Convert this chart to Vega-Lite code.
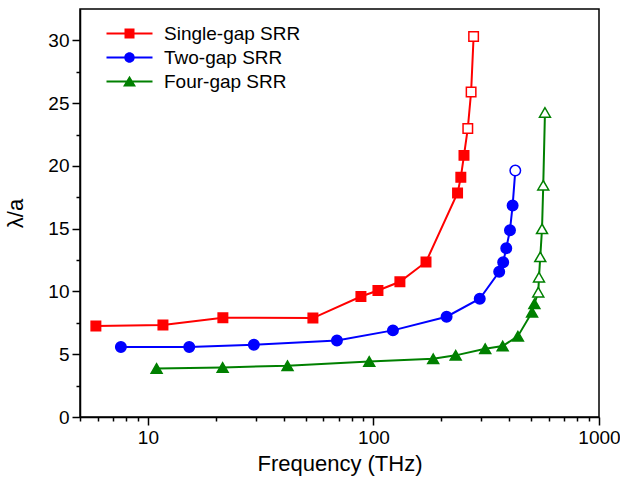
{
  "$schema": "https://vega.github.io/schema/vega-lite/v6.json",
  "width": 519,
  "height": 408,
  "autosize": "none",
  "padding": {"left": 80, "top": 9, "right": 21, "bottom": 71},
  "background": "white",
  "config": {
    "view": {"stroke": "black", "strokeWidth": 1.5},
    "font": "Liberation Sans",
    "axis": {
      "domainColor": "black", "domainWidth": 1.5, "tickColor": "black", "tickWidth": 1.5,
      "labelColor": "black", "labelFont": "Liberation Sans", "labelFontSize": 19,
      "titleColor": "black", "titleFont": "Liberation Sans", "titleFontSize": 22, "titleFontWeight": "normal",
      "grid": false
    },
    "legend": {"labelFont": "Liberation Sans"}
  },
  "data": {
    "values": [
      {"series": "Single-gap SRR", "freq": 5.88, "lam": 7.24, "open": 0},
      {"series": "Single-gap SRR", "freq": 11.66, "lam": 7.32, "open": 0},
      {"series": "Single-gap SRR", "freq": 21.5, "lam": 7.91, "open": 0},
      {"series": "Single-gap SRR", "freq": 53.9, "lam": 7.88, "open": 0},
      {"series": "Single-gap SRR", "freq": 88.0, "lam": 9.6, "open": 0},
      {"series": "Single-gap SRR", "freq": 104.7, "lam": 10.08, "open": 0},
      {"series": "Single-gap SRR", "freq": 131, "lam": 10.77, "open": 0},
      {"series": "Single-gap SRR", "freq": 171, "lam": 12.35, "open": 0},
      {"series": "Single-gap SRR", "freq": 236, "lam": 17.85, "open": 0},
      {"series": "Single-gap SRR", "freq": 244, "lam": 19.09, "open": 0},
      {"series": "Single-gap SRR", "freq": 252, "lam": 20.84, "open": 0},
      {"series": "Single-gap SRR", "freq": 262, "lam": 22.99, "open": 1},
      {"series": "Single-gap SRR", "freq": 271, "lam": 25.89, "open": 1},
      {"series": "Single-gap SRR", "freq": 278, "lam": 30.31, "open": 1},
      {"series": "Two-gap SRR", "freq": 7.59, "lam": 5.57, "open": 0},
      {"series": "Two-gap SRR", "freq": 15.25, "lam": 5.57, "open": 0},
      {"series": "Two-gap SRR", "freq": 29.5, "lam": 5.76, "open": 0},
      {"series": "Two-gap SRR", "freq": 68.9, "lam": 6.1, "open": 0},
      {"series": "Two-gap SRR", "freq": 122, "lam": 6.9, "open": 0},
      {"series": "Two-gap SRR", "freq": 211, "lam": 7.99, "open": 0},
      {"series": "Two-gap SRR", "freq": 296, "lam": 9.42, "open": 0},
      {"series": "Two-gap SRR", "freq": 361, "lam": 11.57, "open": 0},
      {"series": "Two-gap SRR", "freq": 376, "lam": 12.33, "open": 0},
      {"series": "Two-gap SRR", "freq": 388, "lam": 13.45, "open": 0},
      {"series": "Two-gap SRR", "freq": 403, "lam": 14.88, "open": 0},
      {"series": "Two-gap SRR", "freq": 414, "lam": 16.84, "open": 0},
      {"series": "Two-gap SRR", "freq": 425.5, "lam": 19.63, "open": 1},
      {"series": "Four-gap SRR", "freq": 10.93, "lam": 3.87, "open": 0},
      {"series": "Four-gap SRR", "freq": 21.45, "lam": 3.95, "open": 0},
      {"series": "Four-gap SRR", "freq": 41.6, "lam": 4.09, "open": 0},
      {"series": "Four-gap SRR", "freq": 95.8, "lam": 4.43, "open": 0},
      {"series": "Four-gap SRR", "freq": 184, "lam": 4.64, "open": 0},
      {"series": "Four-gap SRR", "freq": 231.5, "lam": 4.91, "open": 0},
      {"series": "Four-gap SRR", "freq": 313, "lam": 5.44, "open": 0},
      {"series": "Four-gap SRR", "freq": 374, "lam": 5.65, "open": 0},
      {"series": "Four-gap SRR", "freq": 437, "lam": 6.44, "open": 0},
      {"series": "Four-gap SRR", "freq": 505, "lam": 8.35, "open": 0},
      {"series": "Four-gap SRR", "freq": 517, "lam": 9.02, "open": 0},
      {"series": "Four-gap SRR", "freq": 538, "lam": 9.94, "open": 1},
      {"series": "Four-gap SRR", "freq": 542, "lam": 11.14, "open": 1},
      {"series": "Four-gap SRR", "freq": 549, "lam": 12.76, "open": 1},
      {"series": "Four-gap SRR", "freq": 559, "lam": 14.99, "open": 1},
      {"series": "Four-gap SRR", "freq": 566, "lam": 18.46, "open": 1},
      {"series": "Four-gap SRR", "freq": 576, "lam": 24.26, "open": 1}
    ]
  },
  "resolve": {"axis": {"x": "independent", "y": "independent"}},
  "layer": [
    {
      "mark": {"type": "line", "strokeWidth": 2},
      "encoding": {
        "x": {"field": "freq", "type": "quantitative",
          "scale": {"type": "log", "domain": [5, 1000], "nice": false},
          "axis": {
            "orient": "bottom",
            "values": [5,6,7,8,9,10,20,30,40,50,60,70,80,90,100,200,300,400,500,600,700,800,900,1000],
            "labelExpr": "(datum.value==10||datum.value==100||datum.value==1000) ? format(datum.value,'d') : ''",
            "tickSize": {"condition": {"test": "datum.value==10||datum.value==100||datum.value==1000", "value": 8}, "value": 4},
            "labelOverlap": false, "labelFlush": false, "labelBound": false,
            "labelPadding": 3, "titlePadding": 6,
            "title": "Frequency (THz)"
          }},
        "y": {"field": "lam", "type": "quantitative",
          "scale": {"domain": [0, 32.5], "nice": false, "zero": false},
          "axis": {
            "orient": "left",
            "values": [0,2.5,5,7.5,10,12.5,15,17.5,20,22.5,25,27.5,30],
            "labelExpr": "datum.value % 5 == 0 ? format(datum.value,'d') : ''",
            "tickSize": {"condition": {"test": "datum.value % 5 == 0", "value": 8}, "value": 4},
            "labelOverlap": false, "labelPadding": 3, "titlePadding": 20,
            "title": "λ/a"
          }},
        "color": {"field": "series", "type": "nominal",
          "scale": {"domain": ["Single-gap SRR", "Two-gap SRR", "Four-gap SRR"], "range": ["#ff0000", "#0000ff", "#008000"]},
          "legend": {"title": null, "orient": "none", "legendX": 40, "legendY": 15, "padding": 0,
            "symbolSize": 100, "labelFontSize": 19, "labelOffset": 25, "rowPadding": 4, "labelColor": "black",
            "encode": {"symbols": {"update": {
              "shape": {"signal": "datum.value == 'Single-gap SRR' ? 'M-4.6,-0.2H4.6V0.2H-4.6Z M-1,-1H1V1H-1Z' : datum.value == 'Two-gap SRR' ? 'M-4.6,-0.2H4.6V0.2H-4.6Z M1.05,0A1.05,1.05 0 1,1 -1.05,0A1.05,1.05 0 1,1 1.05,0Z' : 'M-4.6,-0.2H4.6V0.2H-4.6Z M0,-1.15L1.3,1.0L-1.3,1.0Z'"},
              "fill": {"signal": "datum.value == 'Single-gap SRR' ? '#ff0000' : datum.value == 'Two-gap SRR' ? '#0000ff' : '#008000'"},
              "stroke": {"value": "transparent"},
              "strokeWidth": {"value": 0},
              "opacity": {"value": 1}
            }}}
          }}
      }
    },
    {
      "transform": [{"filter": "datum.series == 'Single-gap SRR'"}],
      "mark": {"type": "point", "shape": "square", "size": 90, "filled": true, "strokeWidth": 1.5, "opacity": 1},
      "encoding": {
        "x": {"field": "freq", "type": "quantitative", "axis": null},
        "y": {"field": "lam", "type": "quantitative", "axis": null},
        "stroke": {"field": "series", "type": "nominal",
          "scale": {"domain": ["Single-gap SRR", "Two-gap SRR", "Four-gap SRR"], "range": ["#ff0000", "#0000ff", "#008000"]}, "legend": null},
        "fill": {"condition": {"test": "datum.open == 1", "value": "white"}, "field": "series", "type": "nominal",
          "scale": {"domain": ["Single-gap SRR", "Two-gap SRR", "Four-gap SRR"], "range": ["#ff0000", "#0000ff", "#008000"]}, "legend": null}
      }
    },
    {
      "transform": [{"filter": "datum.series == 'Two-gap SRR'"}],
      "mark": {"type": "point", "shape": "circle", "size": 110, "filled": true, "strokeWidth": 1.5, "opacity": 1},
      "encoding": {
        "x": {"field": "freq", "type": "quantitative", "axis": null},
        "y": {"field": "lam", "type": "quantitative", "axis": null},
        "stroke": {"field": "series", "type": "nominal",
          "scale": {"domain": ["Single-gap SRR", "Two-gap SRR", "Four-gap SRR"], "range": ["#ff0000", "#0000ff", "#008000"]}, "legend": null},
        "fill": {"condition": {"test": "datum.open == 1", "value": "white"}, "field": "series", "type": "nominal",
          "scale": {"domain": ["Single-gap SRR", "Two-gap SRR", "Four-gap SRR"], "range": ["#ff0000", "#0000ff", "#008000"]}, "legend": null}
      }
    },
    {
      "transform": [{"filter": "datum.series == 'Four-gap SRR'"}],
      "mark": {"type": "point", "shape": "triangle-up", "size": 120, "filled": true, "strokeWidth": 1.5, "opacity": 1},
      "encoding": {
        "x": {"field": "freq", "type": "quantitative", "axis": null},
        "y": {"field": "lam", "type": "quantitative", "axis": null},
        "stroke": {"field": "series", "type": "nominal",
          "scale": {"domain": ["Single-gap SRR", "Two-gap SRR", "Four-gap SRR"], "range": ["#ff0000", "#0000ff", "#008000"]}, "legend": null},
        "fill": {"condition": {"test": "datum.open == 1", "value": "white"}, "field": "series", "type": "nominal",
          "scale": {"domain": ["Single-gap SRR", "Two-gap SRR", "Four-gap SRR"], "range": ["#ff0000", "#0000ff", "#008000"]}, "legend": null}
      }
    }
  ]
}
